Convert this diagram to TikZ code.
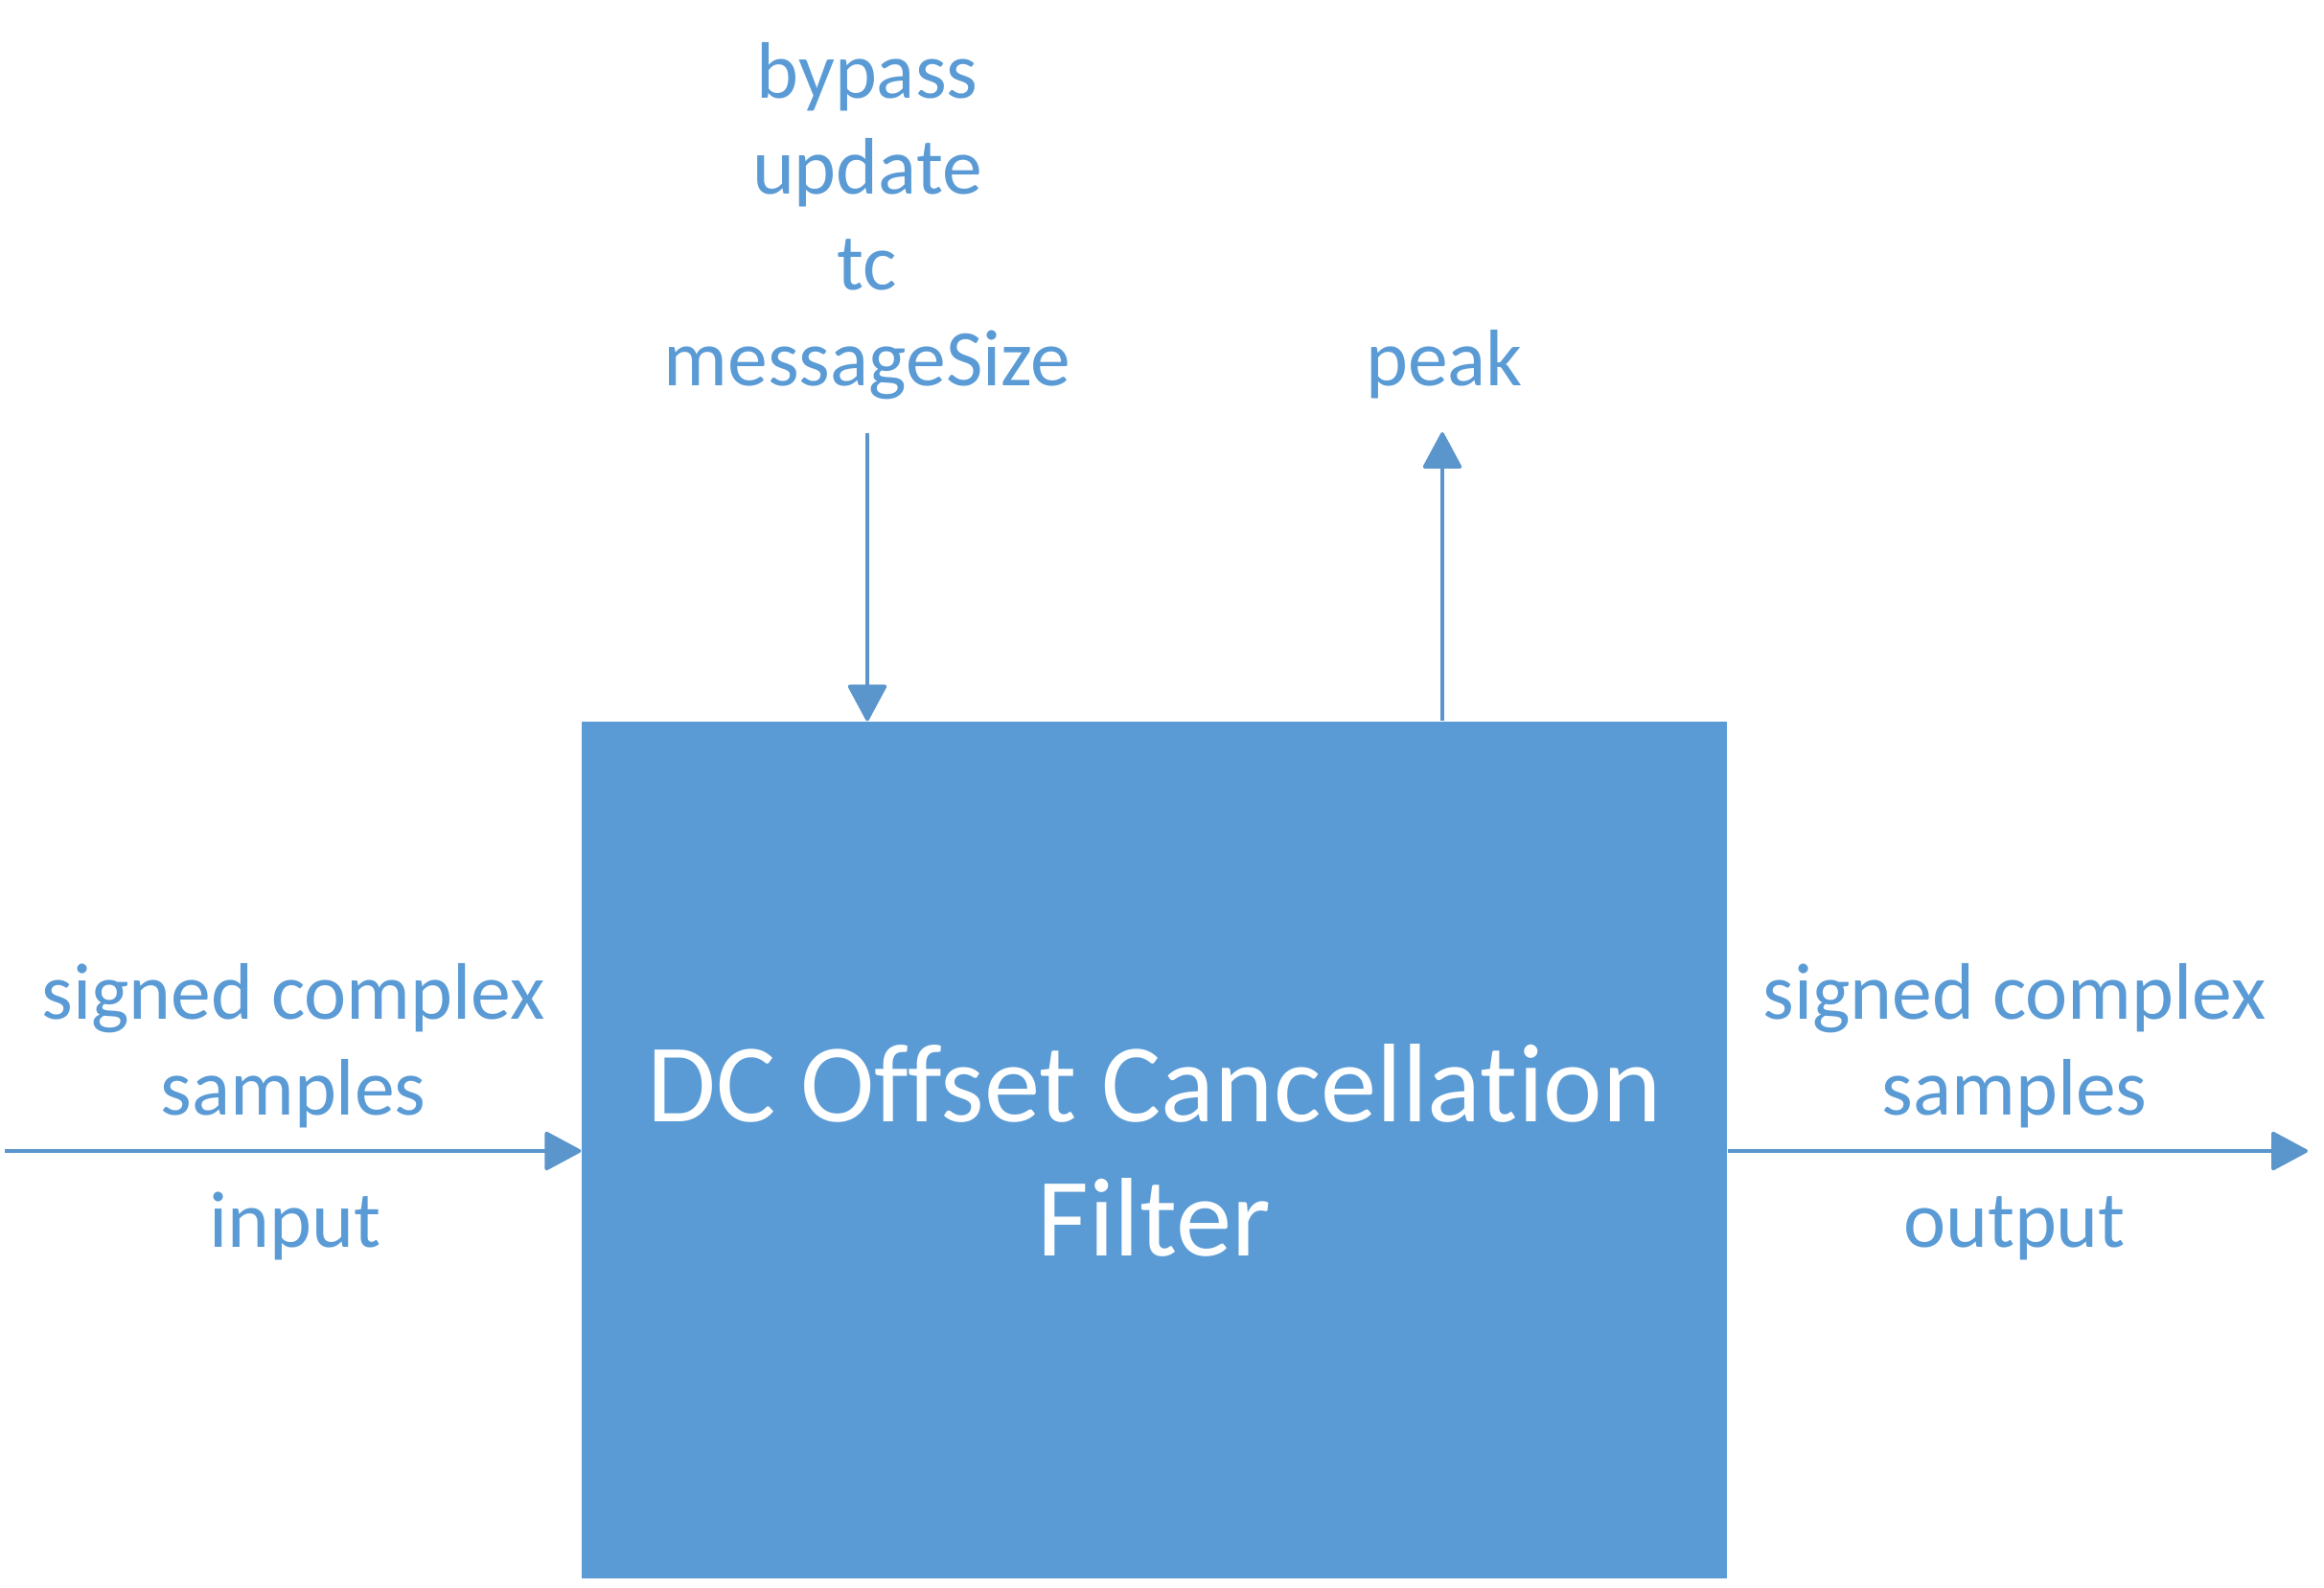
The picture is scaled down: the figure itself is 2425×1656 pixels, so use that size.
\documentclass[tikz,border=0pt]{standalone}
\usepackage{fontspec}
\setmainfont{Carlito}[Ligatures={NoCommon}]
\usetikzlibrary{arrows.meta}
\definecolor{blk}{HTML}{5B9BD5}
\definecolor{lne}{HTML}{5A95CC}
\tikzset{
  lbl/.style={text=blk, font=\fontsize{25.1}{30}\selectfont, align=center, inner sep=0pt, anchor=base},
  blockbox/.style={fill=blk, draw=none, minimum width=358.5pt, minimum height=268.2pt, inner sep=0pt,
     text=white, font=\fontsize{35}{42}\selectfont, align=center},
  conn/.style={draw=lne, line width=1.1pt, -{Triangle[length=12pt,width=12.6pt,round]}}
}
\begin{document}
\begin{tikzpicture}[x=0.3pt,y=-0.3pt]
\useasboundingbox (0,0) rectangle (2425,1656);
\node[blockbox] (box) at (1204.5,1200) {DC Offset Cancellation\\Filter};
% labels (anchor base = baseline of the last line)
\node[lbl] (inlbl) at (306,1163) {signed complex\\samples};
\node[lbl] (inname) at (308,1301) {input};
\node[lbl] (outlbl) at (2102,1163) {signed complex\\samples};
\node[lbl] (outname) at (2102,1301) {output};
\node[lbl] (ctl) at (905,402) {bypass\\update\\tc\\messageSize};
\node[lbl] (peak) at (1507,402) {peak};
% connector ends
\coordinate (inend) at (5,1201);
\coordinate (outend) at (2408,1201);
\coordinate (ctltop) at (905,452);
\coordinate (peaktop) at (1505,451);
% connectors
\draw[conn] (inend) -- (inend -| box.west);
\draw[conn] (outend -| box.east) -- (outend);
\draw[conn] (ctltop) -- (ctltop |- box.north);
\draw[conn] (peaktop |- box.north) -- (peaktop);
\end{tikzpicture}
\end{document}
